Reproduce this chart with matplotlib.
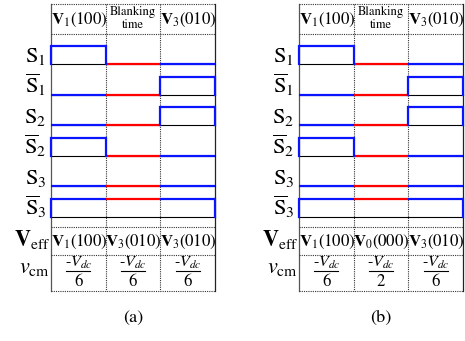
import matplotlib
matplotlib.use("Agg")
import matplotlib.pyplot as plt

plt.rcParams['font.family'] = ['STIXGeneral', 'DejaVu Serif']
plt.rcParams['mathtext.fontset'] = 'stix'

# ---------------- data ----------------
header_labels = [r'$\mathbf{V}_1\mathrm{(100)}$', 'Blanking\ntime', r'$\mathbf{V}_3\mathrm{(010)}$']
signal_labels = [r'$\mathrm{S}_1$', r'$\overline{\mathrm{S}}_1$', r'$\mathrm{S}_2$',
                 r'$\overline{\mathrm{S}}_2$', r'$\mathrm{S}_3$', r'$\overline{\mathrm{S}}_3$']
levels_a = [[1, 0, 0], [0, 0, 1], [0, 0, 1], [1, 0, 0], [0, 0, 0], [1, 1, 1]]
levels_b = [[1, 0, 0], [0, 0, 1], [0, 0, 1], [1, 0, 0], [0, 0, 0], [1, 1, 1]]
blanking_col = 1
veff_a = [r'$\mathbf{V}_1\mathrm{(100)}$', r'$\mathbf{V}_3\mathrm{(010)}$', r'$\mathbf{V}_3\mathrm{(010)}$']
veff_b = [r'$\mathbf{V}_1\mathrm{(100)}$', r'$\mathbf{V}_0\mathrm{(000)}$', r'$\mathbf{V}_3\mathrm{(010)}$']
vcm_den_a = ['6', '6', '6']
vcm_den_b = ['6', '2', '6']
panel_names = ['(a)', '(b)']

# ---------------- layout ----------------
W, H = 465, 341
fig = plt.figure(figsize=(W / 100, H / 100), dpi=100)
ax = fig.add_axes([0, 0, 1, 1])
ax.set_xlim(0, W)
ax.set_ylim(H, 0)
ax.axis('off')

col_w = 54.7
top, head_bot = 4, 34
base0, pitch, high = 64, 30.6, 18
sig_bot, veff_bot, tab_bot = 227, 255, 291
BLUE, RED = '#0a14ff', '#ff0000'
dot = dict(color='#333333', lw=0.8, ls=(0, (1, 1)))
HFS = 12.1


def draw_panel(x0, levels, veff, dens, name):
    xs = [x0 + i * col_w for i in range(4)]
    xr = xs[-1]
    # borders
    ax.plot([x0, x0], [top, tab_bot], color='#555555', lw=0.9)
    ax.plot([xr, xr], [top, tab_bot], color='#222222', lw=0.9)
    for xv in xs[1:3]:
        ax.plot([xv, xv], [top, tab_bot], **dot)
    for yh in (top, head_bot, sig_bot, veff_bot, tab_bot):
        ax.plot([x0, xr], [yh, yh], **dot)
    # headers
    for i, lab in enumerate(header_labels):
        cx = (xs[i] + xs[i + 1]) / 2
        if i == blanking_col:
            ax.text(cx, 12.5, 'Blanking', ha='center', va='center', fontsize=9)
            ax.text(cx, 25.5, 'time', ha='center', va='center', fontsize=9)
        else:
            ax.text(cx + 0.5, 20, lab, ha='center', va='center', fontsize=HFS)
    # signals
    for r, lv in enumerate(levels):
        yb = base0 + r * pitch
        yh = yb - high
        ax.plot([x0, xr], [yb, yb], color='black', lw=0.8, zorder=2)
        for c, v in enumerate(lv):
            col = RED if c == blanking_col else BLUE
            yy = yh if v else yb
            ax.plot([xs[c], xs[c + 1]], [yy, yy], color=col, lw=1.6,
                    solid_capstyle='butt', zorder=3)
        # vertical edges
        for c in range(4):
            left = lv[c - 1] if c > 0 else 0
            right = lv[c] if c < 3 else 0
            if left != right:
                ax.plot([xs[c], xs[c]], [yb, yh], color=BLUE, lw=1.6, zorder=3)
    # Veff row
    for i in range(3):
        cx = (xs[i] + xs[i + 1]) / 2
        ax.text(cx + 0.5, 241.5, veff[i], ha='center', va='center', fontsize=HFS)
        ax.text(cx, 262.5, r'-$V_{dc}$', ha='center', va='center', fontsize=11.5)
        ax.plot([cx - 12, cx + 12], [271, 271], color='black', lw=0.8)
        ax.text(cx, 281.5, dens[i], ha='center', va='center', fontsize=12)
    # left labels
    for r, lab in enumerate(signal_labels):
        yb = base0 + r * pitch
        ax.text(x0 - 5, yb - 2, lab, ha='right', va='baseline', fontsize=16)
    ax.text(x0 - 1, 246, r'$\mathbf{V}_{\mathrm{eff}}$', ha='right', va='baseline', fontsize=16)
    ax.text(x0 - 1, 273, r'$v_{\mathrm{cm}}$', ha='right', va='baseline', fontsize=16)
    ax.text((x0 + xr) / 2, 318, name, ha='center', va='center', fontsize=13)


draw_panel(51, levels_a, veff_a, vcm_den_a, panel_names[0])
draw_panel(299, levels_b, veff_b, vcm_den_b, panel_names[1])

fig.savefig('out.png', dpi=100)
